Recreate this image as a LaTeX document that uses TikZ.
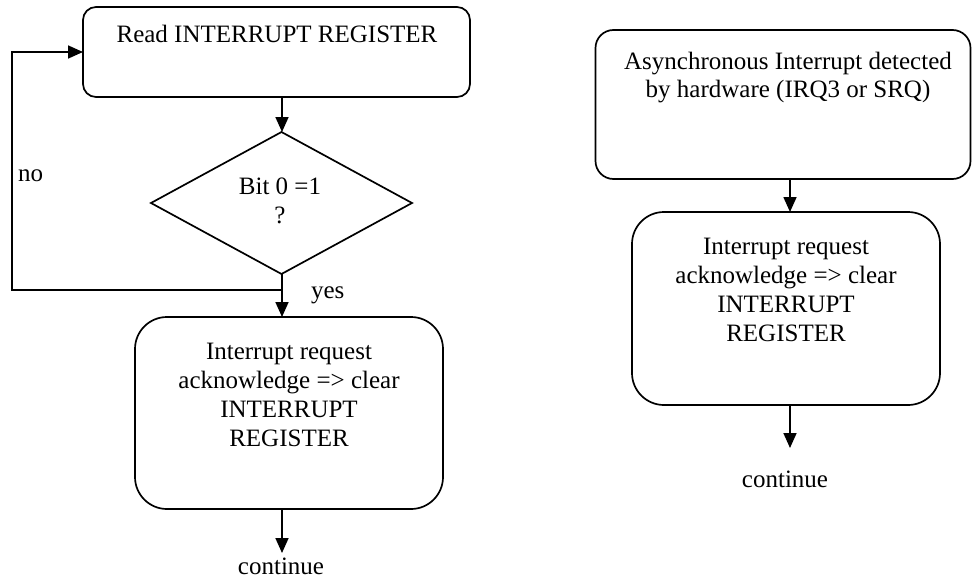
\documentclass[tikz,border=0pt]{standalone}
\usepackage{fontspec}
\setmainfont{Liberation Serif}
\usetikzlibrary{shapes.geometric,arrows.meta}
\begin{document}
\begin{tikzpicture}[x=1pt,y=-1pt,
  line width=1.7pt,
  every node/.style={inner sep=0pt,outer sep=0pt},
  arr/.style={-{Triangle[length=15pt,width=13pt]}},
  box/.style={draw,rectangle,line width=1.7pt},
  txt/.style={font=\fontsize{25}{28.8}\selectfont,align=center,anchor=base},
  lbl/.style={font=\fontsize{25}{28.8}\selectfont,anchor=base west}]
\useasboundingbox (0,0) rectangle (972,578);
% left flow
\node[box,rounded corners=13pt,minimum width=387pt,minimum height=90pt] (b1) at (276.5,52) {};
\node[txt] (t1) at (277,43) {Read INTERRUPT REGISTER};
\node[draw,diamond,line width=1.7pt,minimum width=261pt,minimum height=142pt] (d) at (281.5,203) {};
\node[txt] (td) at (280,223) {Bit 0 =1\\?};
\node[box,rounded corners=32pt,minimum width=308pt,minimum height=192pt] (b2) at (289,413) {};
\node[txt] (t2) at (289,446) {Interrupt request\\acknowledge => clear\\INTERRUPT\\REGISTER};
\coordinate (lx) at (282,0);
\coordinate (j) at (282,290);
\coordinate (corner) at (12,290);
\coordinate (c1) at (282,553);
\node[txt] (cont1) at (281,574) {continue};
\node[lbl] (no) at (18,181) {no};
\node[lbl] (yes) at (311,298) {yes};
\draw[arr] (b1.south -| lx) -- (d.north -| lx);
\draw (d.south -| lx) -- (j);
\draw[arr] (j) -- (b2.north -| lx);
\draw[arr] (j) -- (corner) |- (b1.west);
\draw[arr] (b2.south -| lx) -- (c1);
% right flow
\node[box,rounded corners=18pt,minimum width=375pt,minimum height=149pt] (b3) at (783,104.5) {};
\node[txt] (t3) at (788,98) {Asynchronous Interrupt detected\\by hardware (IRQ3 or SRQ)};
\node[box,rounded corners=32pt,minimum width=308pt,minimum height=193pt] (b4) at (786,308.5) {};
\node[txt] (t4) at (786,341) {Interrupt request\\acknowledge => clear\\INTERRUPT\\REGISTER};
\coordinate (rx) at (790,0);
\coordinate (c2) at (790,448);
\node[txt] (cont2) at (785,487) {continue};
\draw[arr] (b3.south -| rx) -- (b4.north -| rx);
\draw[arr] (b4.south -| rx) -- (c2);
\end{tikzpicture}
\end{document}
